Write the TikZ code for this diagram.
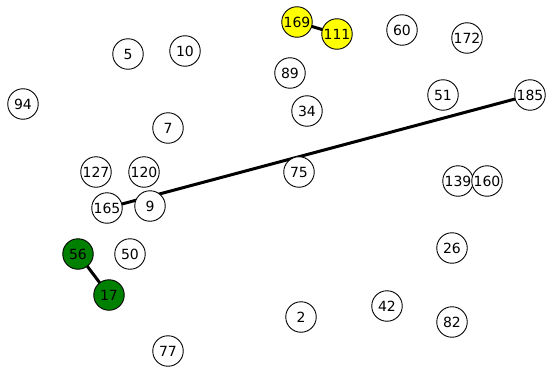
\documentclass[tikz,border=0pt]{standalone}
\usepackage{fontspec}
\setmainfont{DejaVu Sans}
\usepackage{xcolor}
\usetikzlibrary{backgrounds}
\definecolor{nodeyellow}{RGB}{255,255,0}
\definecolor{nodegreen}{RGB}{0,128,0}

\begin{document}
\begin{tikzpicture}[x=1pt,y=-1pt,
	vertex/.style={circle,draw,line width=0.9pt,fill=white,minimum size=30.5pt,inner sep=0pt,font=\fontsize{14}{16}\selectfont},
	link/.style={line width=3pt}]
	\useasboundingbox (0,0) rectangle (547,372);
	\foreach \n/\x/\y in {60/402/30,172/467/38,5/128/54,10/185/51,89/290/73,94/23/104,51/443/95,185/530/95,34/307/111,7/168/128,127/96/172,120/144/172,75/299/172,139/458/181,160/487/181,165/107/208,9/150/206,50/130/254,26/452/248,2/301/317,42/387/306,82/452/322,77/168/351}{
		\node[vertex] (n\n) at (\x,\y) {\n};
	}
	\node[vertex,fill=nodeyellow] (n169) at (297,22) {169};
	\node[vertex,fill=nodeyellow] (n111) at (337,34) {111};
	\node[vertex,fill=nodegreen] (n56) at (78,254) {56};
	\node[vertex,fill=nodegreen] (n17) at (109,295) {17};
	\begin{scope}[on background layer]
		\draw[link] (n169.center) -- (n111.center);
		\draw[link] (n165.center) -- (n185.center);
		\draw[link] (n56.center) -- (n17.center);
	\end{scope}
\end{tikzpicture}
\end{document}
